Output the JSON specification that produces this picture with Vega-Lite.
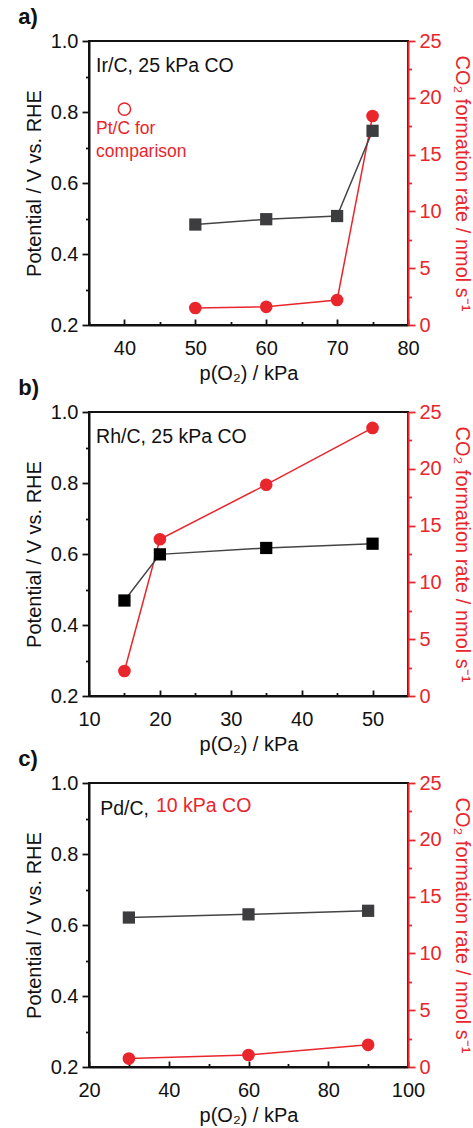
{
  "$schema": "https://vega.github.io/schema/vega-lite/v6.json",
  "padding": {"left": 17, "top": 5, "right": 0, "bottom": 0},
  "spacing": -9,
  "config": {
    "font": "Liberation Sans",
    "view": {"stroke": "#111", "strokeWidth": 2},
    "title": {"fontSize": 22, "fontWeight": "bold", "anchor": "start", "color": "#111", "offset": 2},
    "axis": {
      "grid": false, "domainColor": "#111", "domainWidth": 2, "tickColor": "#111", "tickWidth": 1.8,
      "labelFontSize": 20, "titleFontSize": 20, "titleFontWeight": "normal",
      "labelColor": "#111", "titleColor": "#111", "labelFlush": false, "labelOverlap": false
    }
  },
  "vconcat": [
    {
      "title": {"text": "a)", "dx": -6},
      "width": 319, "height": 284,
      "encoding": {
        "x": {"field": "x", "type": "quantitative", "scale": {"domain": [35, 80], "nice": false, "zero": false},
          "axis": {"title": "p(O₂) / kPa", "values": [35, 40, 45, 50, 55, 60, 65, 70, 75, 80],
            "labelExpr": "datum.value % 10 == 0 ? format(datum.value, 'd') : ''",
            "tickSize": {"condition": {"test": "datum.value % 10 == 0", "value": -6}, "value": -3.5},
            "labelPadding": 19, "titlePadding": 3}}
      },
      "layer": [
        {
          "data": {"values": [{"x": 50, "v": 1.5}, {"x": 60, "v": 1.6}, {"x": 70, "v": 2.2}, {"x": 75, "v": 18.4}]},
          "encoding": {"y": {"field": "v", "type": "quantitative", "scale": {"domain": [0, 25], "nice": false, "zero": false},
            "axis": {"orient": "right", "title": "CO₂ formation rate / nmol s⁻¹", "values": [0, 2.5, 5, 7.5, 10, 12.5, 15, 17.5, 20, 22.5, 25],
              "labelExpr": "datum.value % 5 == 0 ? format(datum.value, 'd') : ''",
              "tickSize": {"condition": {"test": "datum.value % 5 == 0", "value": 7}, "value": 3.5},
              "domainColor": "#e8262b", "tickColor": "#e8262b", "labelColor": "#e8262b", "titleColor": "#e8262b",
              "labelPadding": 4, "titlePadding": 10}}},
          "layer": [
            {"mark": {"type": "line", "color": "#e8262b", "strokeWidth": 1.5}},
            {"mark": {"type": "point", "shape": "circle", "filled": true, "size": 160, "color": "#e8262b", "opacity": 1}},
            {"data": {"values": [{"x": 40, "v": 19.0}]},
              "mark": {"type": "point", "shape": "circle", "filled": false, "size": 150, "color": "#e8262b", "strokeWidth": 1.5, "opacity": 1}},
            {"data": {"values": [{"x": 36, "v": 17.25, "t": "Pt/C for"}, {"x": 36, "v": 15.2, "t": "comparison"}]},
              "mark": {"type": "text", "align": "left", "baseline": "middle", "fontSize": 17.5, "color": "#e8262b"},
              "encoding": {"text": {"field": "t"}}}
          ]
        },
        {
          "data": {"values": [{"x": 50, "v": 0.483}, {"x": 60, "v": 0.498}, {"x": 70, "v": 0.507}, {"x": 75, "v": 0.747}]},
          "encoding": {"y": {"field": "v", "type": "quantitative", "scale": {"domain": [0.2, 1.0], "nice": false, "zero": false},
            "axis": {"orient": "left", "title": "Potential / V vs. RHE", "values": [0.2, 0.3, 0.4, 0.5, 0.6, 0.7, 0.8, 0.9, 1.0],
              "labelExpr": "round(datum.value * 10) % 2 == 0 ? format(datum.value, '.1f') : ''",
              "tickSize": {"condition": {"test": "round(datum.value * 10) % 2 == 0", "value": 7}, "value": 3.5},
              "labelPadding": 4, "titlePadding": 6}}},
          "layer": [
            {"mark": {"type": "line", "color": "#444", "strokeWidth": 1.5}},
            {"mark": {"type": "point", "shape": "square", "filled": true, "size": 150, "color": "#3d3d40", "opacity": 1}},
            {"data": {"values": [{"x": 36, "v": 0.93, "t": "Ir/C, 25 kPa CO"}]},
              "mark": {"type": "text", "align": "left", "baseline": "middle", "fontSize": 19.5, "color": "#111"},
              "encoding": {"text": {"field": "t"}}}
          ]
        }
      ],
      "resolve": {"scale": {"y": "independent"}}
    },
    {
      "title": {"text": "b)", "dx": -6},
      "width": 319, "height": 284,
      "encoding": {
        "x": {"field": "x", "type": "quantitative", "scale": {"domain": [10, 55], "nice": false, "zero": false},
          "axis": {"title": "p(O₂) / kPa", "values": [10, 15, 20, 25, 30, 35, 40, 45, 50, 55],
            "labelExpr": "datum.value % 10 == 0 ? format(datum.value, 'd') : ''",
            "tickSize": {"condition": {"test": "datum.value % 10 == 0", "value": -6}, "value": -3.5},
            "labelPadding": 19, "titlePadding": 3}}
      },
      "layer": [
        {
          "data": {"values": [{"x": 15, "v": 2.2}, {"x": 20, "v": 13.8}, {"x": 35, "v": 18.6}, {"x": 50, "v": 23.6}]},
          "encoding": {"y": {"field": "v", "type": "quantitative", "scale": {"domain": [0, 25], "nice": false, "zero": false},
            "axis": {"orient": "right", "title": "CO₂ formation rate / nmol s⁻¹", "values": [0, 2.5, 5, 7.5, 10, 12.5, 15, 17.5, 20, 22.5, 25],
              "labelExpr": "datum.value % 5 == 0 ? format(datum.value, 'd') : ''",
              "tickSize": {"condition": {"test": "datum.value % 5 == 0", "value": 7}, "value": 3.5},
              "domainColor": "#e8262b", "tickColor": "#e8262b", "labelColor": "#e8262b", "titleColor": "#e8262b",
              "labelPadding": 4, "titlePadding": 10}}},
          "layer": [
            {"mark": {"type": "line", "color": "#e8262b", "strokeWidth": 1.5}},
            {"mark": {"type": "point", "shape": "circle", "filled": true, "size": 160, "color": "#e8262b", "opacity": 1}}
          ]
        },
        {
          "data": {"values": [{"x": 15, "v": 0.469}, {"x": 20, "v": 0.599}, {"x": 35, "v": 0.617}, {"x": 50, "v": 0.629}]},
          "encoding": {"y": {"field": "v", "type": "quantitative", "scale": {"domain": [0.2, 1.0], "nice": false, "zero": false},
            "axis": {"orient": "left", "title": "Potential / V vs. RHE", "values": [0.2, 0.3, 0.4, 0.5, 0.6, 0.7, 0.8, 0.9, 1.0],
              "labelExpr": "round(datum.value * 10) % 2 == 0 ? format(datum.value, '.1f') : ''",
              "tickSize": {"condition": {"test": "round(datum.value * 10) % 2 == 0", "value": 7}, "value": 3.5},
              "labelPadding": 4, "titlePadding": 6}}},
          "layer": [
            {"mark": {"type": "line", "color": "#444", "strokeWidth": 1.5}},
            {"mark": {"type": "point", "shape": "square", "filled": true, "size": 150, "color": "#000", "opacity": 1}},
            {"data": {"values": [{"x": 11, "v": 0.93, "t": "Rh/C, 25 kPa CO"}]},
              "mark": {"type": "text", "align": "left", "baseline": "middle", "fontSize": 19.5, "color": "#111"},
              "encoding": {"text": {"field": "t"}}}
          ]
        }
      ],
      "resolve": {"scale": {"y": "independent"}}
    },
    {
      "title": {"text": "c)", "dx": -6},
      "width": 319, "height": 284,
      "encoding": {
        "x": {"field": "x", "type": "quantitative", "scale": {"domain": [20, 100], "nice": false, "zero": false},
          "axis": {"title": "p(O₂) / kPa", "values": [20, 30, 40, 50, 60, 70, 80, 90, 100],
            "labelExpr": "datum.value % 20 == 0 ? format(datum.value, 'd') : ''",
            "tickSize": {"condition": {"test": "datum.value % 20 == 0", "value": -6}, "value": -3.5},
            "labelPadding": 19, "titlePadding": 3}}
      },
      "layer": [
        {
          "data": {"values": [{"x": 30, "v": 0.74}, {"x": 60, "v": 1.06}, {"x": 90, "v": 1.95}]},
          "encoding": {"y": {"field": "v", "type": "quantitative", "scale": {"domain": [0, 25], "nice": false, "zero": false},
            "axis": {"orient": "right", "title": "CO₂ formation rate / nmol s⁻¹", "values": [0, 2.5, 5, 7.5, 10, 12.5, 15, 17.5, 20, 22.5, 25],
              "labelExpr": "datum.value % 5 == 0 ? format(datum.value, 'd') : ''",
              "tickSize": {"condition": {"test": "datum.value % 5 == 0", "value": 7}, "value": 3.5},
              "domainColor": "#e8262b", "tickColor": "#e8262b", "labelColor": "#e8262b", "titleColor": "#e8262b",
              "labelPadding": 4, "titlePadding": 10}}},
          "layer": [
            {"mark": {"type": "line", "color": "#e8262b", "strokeWidth": 1.5}},
            {"mark": {"type": "point", "shape": "circle", "filled": true, "size": 160, "color": "#e8262b", "opacity": 1}},
            {"data": {"values": [{"x": 36.8, "v": 23.0, "t": "10 kPa CO"}]},
              "mark": {"type": "text", "align": "left", "baseline": "middle", "fontSize": 19.5, "color": "#e8262b"},
              "encoding": {"text": {"field": "t"}}}
          ]
        },
        {
          "data": {"values": [{"x": 30, "v": 0.621}, {"x": 60, "v": 0.630}, {"x": 90, "v": 0.640}]},
          "encoding": {"y": {"field": "v", "type": "quantitative", "scale": {"domain": [0.2, 1.0], "nice": false, "zero": false},
            "axis": {"orient": "left", "title": "Potential / V vs. RHE", "values": [0.2, 0.3, 0.4, 0.5, 0.6, 0.7, 0.8, 0.9, 1.0],
              "labelExpr": "round(datum.value * 10) % 2 == 0 ? format(datum.value, '.1f') : ''",
              "tickSize": {"condition": {"test": "round(datum.value * 10) % 2 == 0", "value": 7}, "value": 3.5},
              "labelPadding": 4, "titlePadding": 6}}},
          "layer": [
            {"mark": {"type": "line", "color": "#444", "strokeWidth": 1.5}},
            {"mark": {"type": "point", "shape": "square", "filled": true, "size": 150, "color": "#3d3d40", "opacity": 1}},
            {"data": {"values": [{"x": 22.8, "v": 0.926, "t": "Pd/C,"}]},
              "mark": {"type": "text", "align": "left", "baseline": "middle", "fontSize": 19.5, "color": "#111"},
              "encoding": {"text": {"field": "t"}}}
          ]
        }
      ],
      "resolve": {"scale": {"y": "independent"}}
    }
  ]
}
